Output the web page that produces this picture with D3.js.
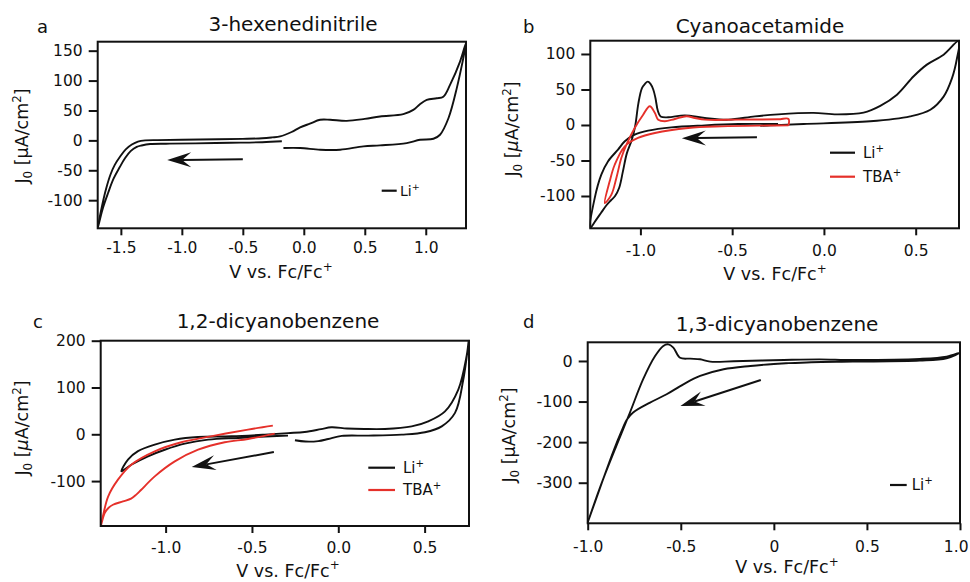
<!DOCTYPE html>
<html><head><meta charset="utf-8">
<script src="https://cdn.jsdelivr.net/npm/d3@7"></script>
<style>
body{margin:0;background:#fff}
svg{display:block}
text{font-family:"DejaVu Sans","Open Sans",sans-serif;fill:#111}
</style>
</head><body>
<svg id="chart" width="970" height="582"></svg>
<script>
// ---------- data (V vs Fc/Fc+, J0 in uA/cm2) ----------
const aLi = [[-0.18,-1.5],[-0.34,-3],[-0.6,-4],[-0.89,-5],[-1.1,-5.5],[-1.26,-6],[-1.33,-8.5],[-1.37,-11],[-1.42,-18],[-1.465,-29.5],[-1.51,-45],[-1.56,-64],[-1.605,-88],[-1.65,-115],[-1.69,-147],
  [-1.655,-110],[-1.62,-80],[-1.585,-57],[-1.55,-41],[-1.506,-27],[-1.46,-15],[-1.41,-7],[-1.36,-2],[-1.3,0],[-1.2,0.5],[-1.0,1],[-0.7,1.8],[-0.5,2.5],[-0.34,3.5],[-0.26,5],[-0.194,6.7],[-0.1,14],[-0.03,21.7],[0.05,28],[0.134,34.4],[0.216,34.4],[0.352,32.7],[0.5,36],[0.625,40],[0.816,43.8],[0.898,51],[0.95,60],[1.008,67.7],[1.09,70.5],[1.144,73],[1.199,92.7],[1.281,131.7],[1.33,163],
  [1.254,87],[1.186,37],[1.117,9.4],[1.063,2.7],[0.953,1],[0.844,-4.5],[0.625,-8.4],[0.489,-10],[0.298,-15.6],[0.134,-15.6],[-0.03,-12.8],[-0.167,-12.8]];

const bLi = [[-0.25,1.5],[-0.35,1.6],[-0.467,1.4],[-0.649,-0.5],[-0.831,-3.3],[-0.958,-8],[-1.031,-13.6],[-1.085,-23],[-1.122,-34.7],[-1.176,-51],[-1.213,-70],[-1.249,-103],[-1.273,-145],
  [-1.245,-135],[-1.215,-124],[-1.185,-113],[-1.16,-106],[-1.138,-100],[-1.115,-88],[-1.095,-65],[-1.074,-40],[-1.047,-21],[-1.029,-2.4],[-1.011,30.5],[-0.992,51.6],[-0.975,58],[-0.96,61],[-0.945,58],[-0.93,50],[-0.918,38],[-0.905,20],[-0.89,12],[-0.849,10.8],[-0.758,13.6],[-0.649,9.9],[-0.522,7.5],[-0.376,12.2],[-0.249,15],[-0.057,17],[0.071,15],[0.216,17.5],[0.307,27],[0.398,42.7],[0.489,68.6],[0.561,85],[0.652,99],[0.736,118.7],
  [0.725,94],[0.698,66],[0.652,40],[0.58,21.5],[0.47,12.2],[0.252,5.2],[-0.111,1.4],[-0.293,-0.5],[-0.347,-1.2]];

const bTBA = [[-0.193,-0.5],[-0.3,-0.8],[-0.558,-1.9],[-0.74,-4.2],[-0.921,-11.3],[-1.013,-18.3],[-1.085,-30],[-1.14,-56],[-1.167,-79],[-1.194,-110],
  [-1.158,-98],[-1.131,-74.6],[-1.104,-46.5],[-1.076,-27.7],[-1.031,-4.2],[-0.985,14.5],[-0.949,26.3],[-0.921,16.9],[-0.903,7.5],[-0.867,5.2],[-0.812,8.5],[-0.749,12.2],[-0.703,9.9],[-0.649,7.5],[-0.467,7.5],[-0.249,8],[-0.193,8.5],[-0.193,-0.5]];

const cLi = [[-0.291,-2.9],[-0.388,-4.3],[-0.581,-7.8],[-0.754,-11.4],[-0.889,-20],[-1.005,-33],[-1.102,-47],[-1.199,-65],[-1.256,-79],
  [-1.218,-54],[-1.16,-36],[-1.063,-22],[-0.947,-11.4],[-0.812,-5.7],[-0.619,-4.3],[-0.426,-0.7],[-0.291,2.5],[-0.195,5],[-0.1,11],[-0.04,15],[0.05,12.5],[0.15,11.4],[0.27,11.4],[0.425,17],[0.521,27.8],[0.618,49],[0.695,95.6],[0.743,167],[0.755,200],
  [0.724,117],[0.676,45.7],[0.599,17],[0.502,4.3],[0.367,-0.7],[0.174,-2.9],[0.02,-3.5],[-0.058,-10],[-0.116,-14.5],[-0.19,-15.5],[-0.251,-12.8]];

const cTBA = [[-0.379,18.6],[-0.523,10],[-0.716,-2.9],[-0.909,-17],[-1.063,-36.4],[-1.199,-65],[-1.276,-97],[-1.333,-133],[-1.36,-170],[-1.375,-196],
  [-1.353,-168.5],[-1.33,-157],[-1.305,-150.6],[-1.247,-143.5],[-1.2,-137.5],[-1.17,-129],[-1.141,-118.5],[-1.063,-90],[-0.947,-58],[-0.812,-33],[-0.658,-17],[-0.523,-10],[-0.368,1.5]];

const dLi = [[0.0,-7.4],[-0.126,-12.3],[-0.27,-20.5],[-0.396,-37],[-0.486,-57.5],[-0.576,-82],[-0.665,-102.6],[-0.756,-127],[-0.79,-145],[-0.82,-175],[-0.86,-220],[-0.92,-295],[-1.0,-398],
  [-0.96,-345],[-0.917,-291],[-0.846,-209],[-0.773,-127],[-0.702,-45],[-0.638,12],[-0.594,37],[-0.567,41],[-0.54,33],[-0.504,8],[-0.45,5.7],[-0.396,4.1],[-0.342,-1.6],[-0.216,-0.8],[0.054,2.5],[0.245,4],[0.425,2.5],[0.784,5],[0.928,10.6],[1.0,20.5],
  [0.928,6.6],[0.784,0.8],[0.425,-1.6],[0.2,-3],[0.065,-5.7],[0.0,-7.4]];

// scan-direction arrows: [start, tip]
const aArrow = [[-0.5,-31.7],[-1.12,-33]];
const bArrow = [[-0.365,-17.3],[-0.774,-18.7]];
const cArrow = [[-0.373,-38],[-0.849,-70]];
const dArrow = [[-0.07,-47],[-0.502,-111]];

// ticks
const aXTicks = [-1.5,-1.0,-0.5,0.0,0.5,1.0];
const aXLabels = ["-1.5","-1.0","-0.5","0.0","0.5","1.0"];
const aYTicks = [150,100,50,0,-50,-100];
const bXTicks = [-1.0,-0.5,0.0,0.5];
const bXLabels = ["-1.0","-0.5","0.0","0.5"];
const bYTicks = [100,50,0,-50,-100];
const cXTicks = [-1.0,-0.5,0.0,0.5];
const cXLabels = ["-1.0","-0.5","0.0","0.5"];
const cYTicks = [200,100,0,-100];
const dXTicks = [-1.0,-0.5,0,0.5,1.0];
const dXLabels = ["-1.0","-0.5","0","0.5","1.0"];
const dYTicks = [0,-100,-200,-300];

const titles = ["3-hexenedinitrile","Cyanoacetamide","1,2-dicyanobenzene","1,3-dicyanobenzene"];
const letters = ["a","b","c","d"];
const seriesNames = ["Li+","TBA+"];
const BLACK = "#111", RED = "#e5302a";

// ---------- layout ----------
const panels = [
  {box:[97.7,466,41.7,228.3], xd:[-1.69,1.33], yd:[-147,165], xt:aXTicks, xl:aXLabels, yt:aYTicks, xlOff:25, ytfs:15.5,
   series:[{d:aLi,c:BLACK}], arrow:aArrow,
   letter:[37,33], title:[293,31], xlab:[281,278], ylab:[28,136], muItalic:false,
   legend:{x1:381.7,x2:396.7,tx:400,fs:14,items:[{y:190.7,c:BLACK,n:0}]}},
  {box:[590.3,959,40.7,228.3], xd:[-1.273,0.736], yd:[-145.5,118.7], xt:bXTicks, xl:bXLabels, yt:bYTicks, xlOff:28, ytfs:15.5,
   series:[{d:bLi,c:BLACK},{d:bTBA,c:RED}], arrow:bArrow,
   letter:[523,33], title:[760,33], xlab:[775,280], ylab:[518,129], muItalic:true,
   legend:{x1:830,x2:855,tx:863,fs:15,items:[{y:152.7,c:BLACK,n:0},{y:176.7,c:RED,n:1}]}},
  {box:[100.7,469,340.7,526], xd:[-1.376,0.757], yd:[-196,200], xt:cXTicks, xl:cXLabels, yt:cYTicks, xlOff:27, ytfs:15.5,
   series:[{d:cLi,c:BLACK},{d:cTBA,c:RED}], arrow:cArrow,
   letter:[33,328], title:[278,328], xlab:[288,576.5], ylab:[28,428], muItalic:true,
   legend:{x1:368.3,x2:395,tx:403,fs:15,items:[{y:467.7,c:BLACK,n:0},{y:490,c:RED,n:1}]}},
  {box:[587.7,960,342.3,523.3], xd:[-1.0,1.0], yd:[-400,46], xt:dXTicks, xl:dXLabels, yt:dYTicks, xlOff:29, ytfs:16,
   series:[{d:dLi,c:BLACK}], arrow:dArrow,
   letter:[523,328], title:[777,331], xlab:[787,573], ylab:[515,435], muItalic:false, lastRight:968,
   legend:{x1:890,x2:906.7,tx:911.7,fs:15,items:[{y:485,c:BLACK,n:0}]}}
];

const svg = d3.select("#chart");

function rich(t, parts, fs){
  let shift = 0;
  parts.forEach(p=>{
    const target = p.sub ? 0.22*fs : p.sup ? -0.42*fs : 0;
    const ts = t.append("tspan").text(p.t).attr("dy", target-shift);
    shift = target;
    if(p.sub||p.sup) ts.attr("font-size", 0.68*fs);
    if(p.it) ts.attr("font-style","italic");
  });
}

panels.forEach((p,i)=>{
  const [L,R,T,B] = p.box;
  const x = d3.scaleLinear().domain(p.xd).range([L,R]);
  const y = d3.scaleLinear().domain(p.yd).range([B,T]);
  const g = svg.append("g");

  // axes
  const xAxis = d3.axisBottom(x).tickValues(p.xt).tickFormat((d,k)=>p.xl[k]).tickSize(7).tickPadding(3);
  const gx = g.append("g").attr("transform",`translate(0,${B})`).call(xAxis);
  gx.select(".domain").remove();
  gx.selectAll("line").attr("stroke","#111").attr("stroke-width",2);
  gx.selectAll("text").attr("font-size",15.5).attr("font-family","DejaVu Sans").attr("fill","#111")
    .attr("dy",null).attr("y",p.xlOff);
  if(p.lastRight){
    const last = gx.selectAll(".tick").filter((d,k)=>k===p.xt.length-1);
    last.select("text").attr("text-anchor","end").attr("x", p.lastRight - x(p.xt[p.xt.length-1]));
  }

  const yAxis = d3.axisLeft(y).tickValues(p.yt).tickFormat(d=>String(d)).tickSize(9).tickPadding(6);
  const gy = g.append("g").attr("transform",`translate(${L},0)`).call(yAxis);
  gy.select(".domain").remove();
  gy.selectAll("line").attr("stroke","#111").attr("stroke-width",2);
  gy.selectAll("text").attr("font-size",p.ytfs).attr("font-family","DejaVu Sans").attr("fill","#111");

  // curves
  const clipId = "clip"+i;
  g.append("clipPath").attr("id",clipId).append("rect").attr("x",L-1).attr("y",T-1).attr("width",R-L+2).attr("height",B-T+2);
  const line = d3.line().x(d=>x(d[0])).y(d=>y(d[1])).curve(d3.curveCatmullRom.alpha(0.5));
  p.series.forEach(s=>{
    g.append("path").attr("d",line(s.d)).attr("fill","none").attr("stroke",s.c)
      .attr("stroke-width",1.9).attr("stroke-linejoin","round").attr("clip-path",`url(#${clipId})`);
  });

  // frame
  g.append("rect").attr("x",L).attr("y",T).attr("width",R-L).attr("height",B-T)
    .attr("fill","none").attr("stroke","#111").attr("stroke-width",2);

  // arrow
  const sx = x(p.arrow[0][0]), sy = y(p.arrow[0][1]);
  const tx = x(p.arrow[1][0]), ty = y(p.arrow[1][1]);
  const len = Math.hypot(tx-sx,ty-sy), ux=(tx-sx)/len, uy=(ty-sy)/len, nx=-uy, ny=ux;
  const HL=24, HW=7.5, NT=0.62;
  g.append("line").attr("x1",sx).attr("y1",sy).attr("x2",tx-ux*HL*NT).attr("y2",ty-uy*HL*NT)
    .attr("stroke","#111").attr("stroke-width",2);
  g.append("path").attr("d",`M${tx},${ty}L${tx-ux*HL+nx*HW},${ty-uy*HL+ny*HW}L${tx-ux*HL*NT},${ty-uy*HL*NT}L${tx-ux*HL-nx*HW},${ty-uy*HL-ny*HW}Z`)
    .attr("fill","#111");

  // legend
  p.legend.items.forEach(it=>{
    g.append("line").attr("x1",p.legend.x1).attr("x2",p.legend.x2).attr("y1",it.y).attr("y2",it.y)
      .attr("stroke",it.c).attr("stroke-width",2.2);
    const t = g.append("text").attr("x",p.legend.tx).attr("y",it.y+0.36*p.legend.fs).attr("font-size",p.legend.fs);
    const name = seriesNames[it.n];
    rich(t,[{t:name.slice(0,-1)},{t:"+",sup:true}],p.legend.fs);
  });

  // texts
  g.append("text").attr("x",p.letter[0]).attr("y",p.letter[1]).attr("font-size",18).text(letters[i]);
  g.append("text").attr("x",p.title[0]).attr("y",p.title[1]).attr("font-size",20).attr("text-anchor","middle").text(titles[i]);
  const xt = g.append("text").attr("x",p.xlab[0]).attr("y",p.xlab[1]).attr("font-size",17.5).attr("text-anchor","middle");
  rich(xt,[{t:"V vs. Fc/Fc"},{t:"+",sup:true}],17.5);
  const yt = g.append("text").attr("transform",`translate(${p.ylab[0]},${p.ylab[1]}) rotate(-90)`)
    .attr("font-size",17.5).attr("text-anchor","middle");
  rich(yt,[{t:"J"},{t:"0",sub:true},{t:" ["},{t:"\u03bc",it:p.muItalic},{t:"A/cm"},{t:"2",sup:true},{t:"]"}],17.5);
});
</script>
</body></html>
